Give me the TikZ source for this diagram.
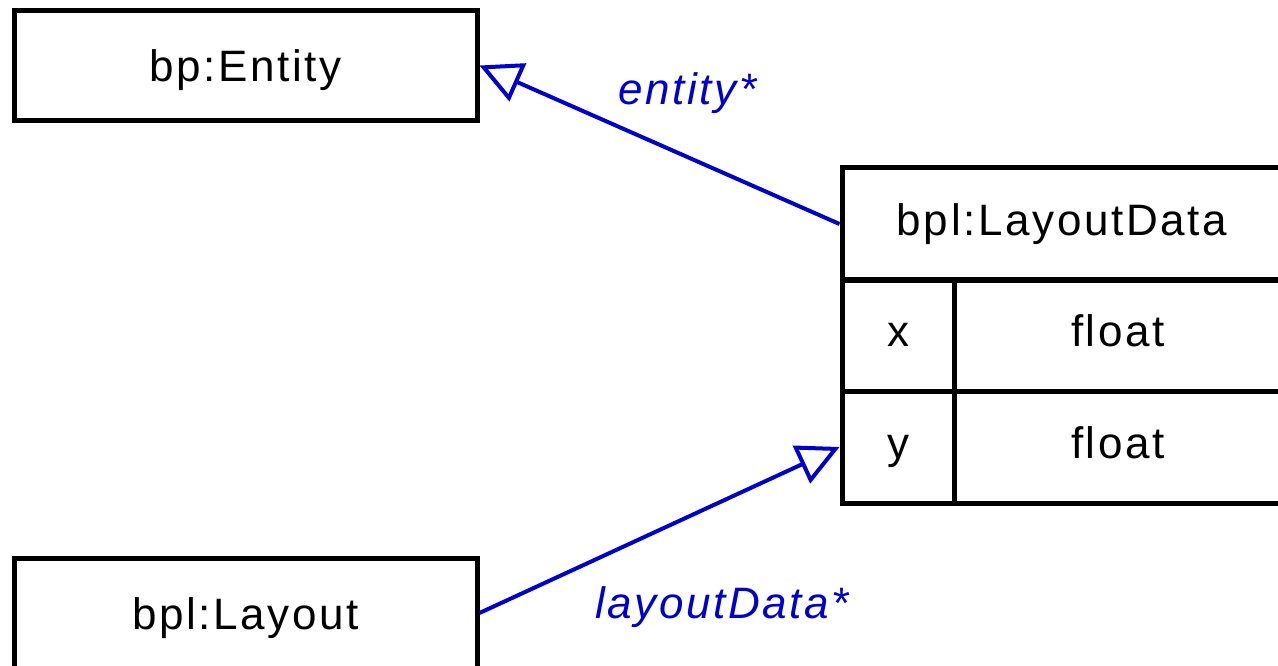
\documentclass[tikz,border=0pt]{standalone}
\usepackage{fontspec}
\setmainfont[LetterSpace=6]{Liberation Sans}
\usepackage{xcolor}
\usepackage{tikz}
\usetikzlibrary{positioning,arrows.meta}
\definecolor{assocblue}{RGB}{0,0,205}

\begin{document}
\begin{tikzpicture}[x=1pt,y=-1pt,
    classbox/.style={draw, line width=5pt, minimum width=463pt, minimum height=110pt, inner sep=0pt,
        text height=33pt, text depth=0pt, font=\fontsize{44}{52}\selectfont},
    cell/.style={draw, line width=5pt, minimum height=112pt, inner sep=0pt,
        text height=32pt, text depth=9pt, font=\fontsize{44}{52}\selectfont},
    assoc/.style={draw=assocblue, line width=4pt, -{Triangle[open,length=42pt,width=41pt]}},
    rolelabel/.style={text=assocblue, font=\fontsize{44}{52}\selectfont\itshape, anchor=base west, inner sep=0pt}]
    \clip (0,0) rectangle (1278,666);

    % Classes
    \node[classbox] (entity) at (245.5,65.5) {bp:Entity};
    \node[classbox] (layout) at (245.5,613) {bpl:Layout};

    % LayoutData with its attributes
    \node[cell, minimum width=440pt] (ldata) at (1062,224) {bpl:LayoutData};
    \node[cell, minimum width=112pt] (xname) at (898,335) {x};
    \node[cell, minimum width=328pt] (xtype) at (1118,335) {float};
    \node[cell, minimum width=112pt] (yname) at (898,447) {y};
    \node[cell, minimum width=328pt] (ytype) at (1118,447) {float};

    % Associations
    \draw[assoc] (ldata.west) -- (entity.east);
    \draw[assoc] (layout.east) -- (yname.west);
    \node[rolelabel] (entityrole) at (618,105) {entity*};
    \node[rolelabel] (layoutrole) at (595,618) {layoutData*};
\end{tikzpicture}
\end{document}
